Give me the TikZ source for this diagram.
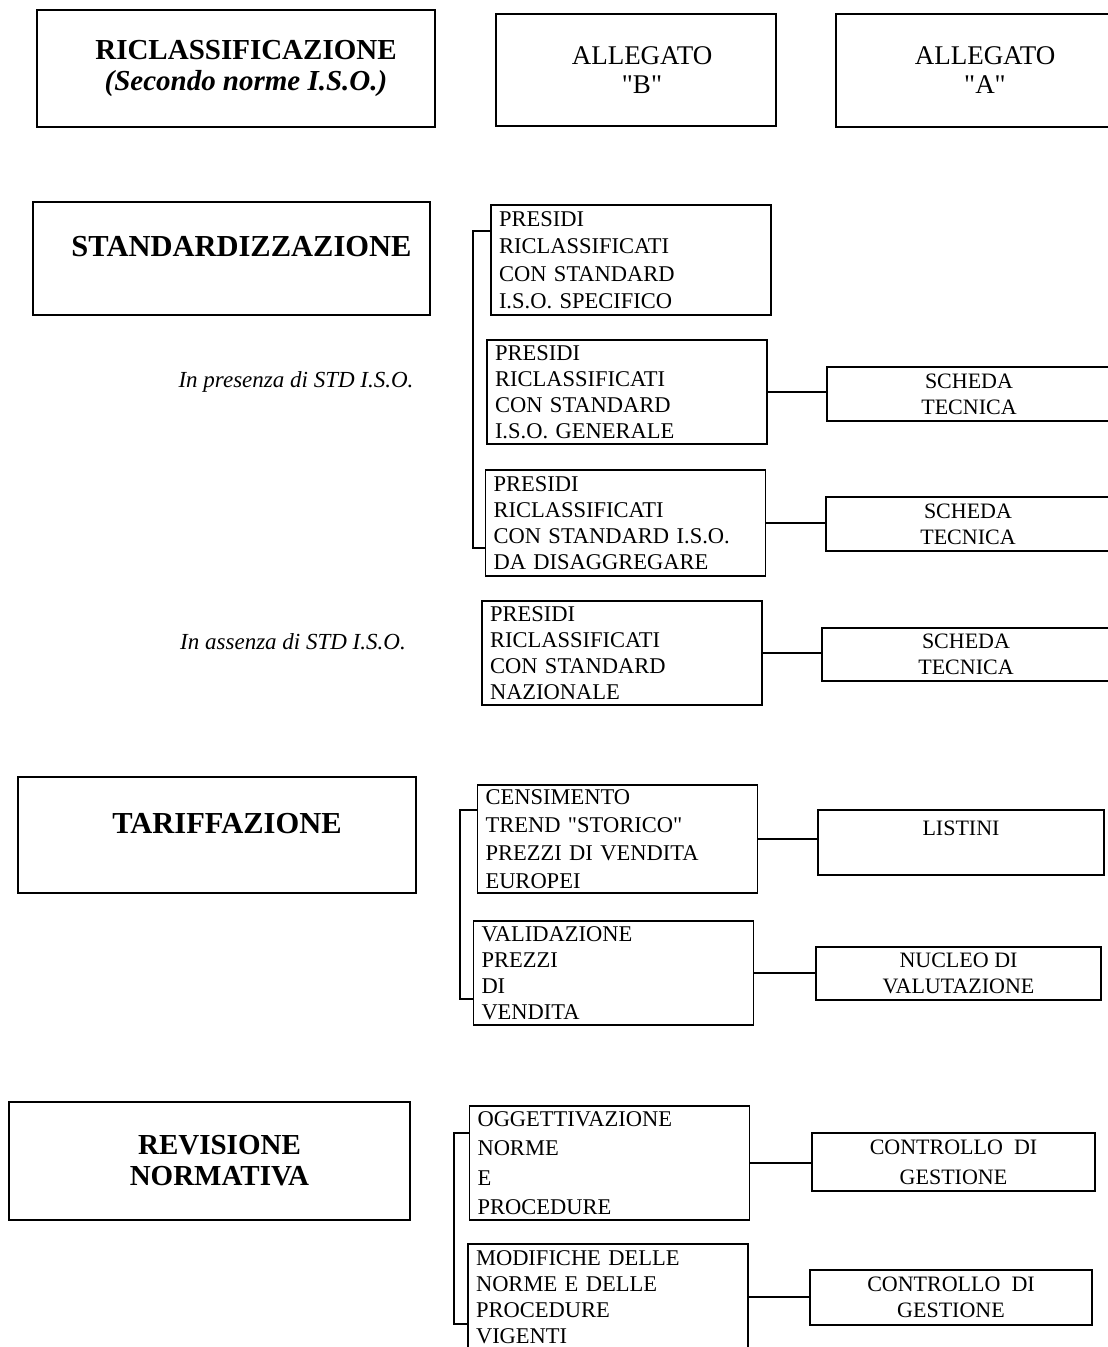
\documentclass[tikz,border=0pt]{standalone}
\usepackage{fontspec}
\setmainfont{Liberation Serif}
\usepackage{tikz}

\newcommand{\padl}{\hspace*{20pt}}

\begin{document}
\begin{tikzpicture}[
    x=1pt,
    y=-1pt,
    headbox/.style={
        draw,
        line width=2.6pt,
        align=center,
        font=\fontsize{29}{31}\selectfont\bfseries
    },
    allbox/.style={
        draw,
        line width=1.6pt,
        align=center,
        font=\fontsize{27}{29}\selectfont
    },
    listbox/.style={
        draw,
        line width=1.5pt,
        inner xsep=8pt,
        inner ysep=0pt,
        text width=264pt,
        align=left,
        font=\fontsize{22.5}{26}\selectfont
    },
    sidebox/.style={
        draw,
        line width=1.5pt,
        align=center,
        font=\fontsize{22}{26}\selectfont
    },
    note/.style={
        font=\fontsize{23}{26}\selectfont\itshape
    },
    link/.style={
        line width=1.8pt
    }
]

\path[use as bounding box, clip] (0,0) rectangle (1108,1347);


\node[headbox, minimum width=398pt, minimum height=117pt] (ricl) at (236,68.5)
    {\padl RICLASSIFICAZIONE\\\padl{\itshape (Secondo norme I.S.O.)}};
\node[allbox, minimum width=280pt, minimum height=112pt] (allb) at (636,70)
    {\hspace*{12pt}ALLEGATO\\\hspace*{12pt}\textquotedbl B\textquotedbl};
\node[allbox, minimum width=298pt, minimum height=113pt] (alla) at (985,70.5)
    {ALLEGATO\\\textquotedbl A\textquotedbl};


\node[headbox, minimum width=397pt, minimum height=113pt, text depth=24pt,
    font=\fontsize{30.5}{32}\selectfont\bfseries] (std) at (231.5,258.5)
    {\padl STANDARDIZZAZIONE};

\node[listbox, minimum height=110pt, font=\fontsize{22.5}{27.5}\selectfont] (pr1) at (631,260)
    {PRESIDI\\RICLASSIFICATI\\CON STANDARD\\I.S.O. SPECIFICO};
\node[listbox, minimum height=104pt] (pr2) at (627,392)
    {PRESIDI\\RICLASSIFICATI\\CON STANDARD\\I.S.O. GENERALE};
\node[listbox, minimum height=106pt] (pr3) at (625.5,523)
    {PRESIDI\\RICLASSIFICATI\\CON STANDARD I.S.O.\\DA DISAGGREGARE};
\node[listbox, minimum height=104pt] (pr4) at (622,653)
    {PRESIDI\\RICLASSIFICATI\\CON STANDARD\\NAZIONALE};

\node[sidebox, minimum width=284pt, minimum height=54pt] (sc1) at (969,394) {SCHEDA\\TECNICA};
\node[sidebox, minimum width=284pt, minimum height=54pt] (sc2) at (968,524) {SCHEDA\\TECNICA};
\node[sidebox, minimum width=288pt, minimum height=53pt] (sc3) at (966,654.5) {SCHEDA\\TECNICA};

\node[note] (pres) at (296,382) {In presenza di STD I.S.O.};
\node[note] (ass) at (293,642) {In assenza di STD I.S.O.};

\draw[link] ([yshift=-27pt]pr1.north west) -- ++(-17,0) |- ([yshift=29pt]pr3.south west);
\draw[link] (pr2.east) -- (pr2.east -| sc1.west);
\draw[link] (pr3.east) -- (pr3.east -| sc2.west);
\draw[link] (pr4.east) -- (pr4.east -| sc3.west);


\node[headbox, minimum width=398pt, minimum height=116pt, text depth=24pt,
    font=\fontsize{30.5}{32}\selectfont\bfseries] (tar) at (217,835)
    {\padl TARIFFAZIONE};

\node[listbox, minimum height=108pt, font=\fontsize{22.5}{28}\selectfont] (cen) at (617.5,839)
    {CENSIMENTO\\TREND \textquotedbl STORICO\textquotedbl\\PREZZI DI VENDITA\\EUROPEI};
\node[listbox, minimum height=104pt] (val) at (613.5,973)
    {VALIDAZIONE\\PREZZI\\DI\\VENDITA};

\node[sidebox, minimum width=286pt, minimum height=65pt, text depth=28pt] (lis) at (961,842.5) {LISTINI};
\node[sidebox, minimum width=285pt, minimum height=53pt] (nuc) at (958.5,973.5) {NUCLEO DI\\VALUTAZIONE};

\draw[link] ([yshift=-26pt]cen.north west) -- ++(-17,0) |- ([yshift=27pt]val.south west);
\draw[link] (cen.east) -- (cen.east -| lis.west);
\draw[link] (val.east) -- (val.east -| nuc.west);


\node[headbox, minimum width=401pt, minimum height=118pt] (rev) at (209.5,1161)
    {\padl REVISIONE\\\padl NORMATIVA};

\node[listbox, minimum height=114pt, font=\fontsize{22.5}{29.5}\selectfont] (ogg) at (609.5,1163)
    {OGGETTIVAZIONE\\NORME\\E\\PROCEDURE};
\node[listbox, minimum height=106pt] (mod) at (608,1297)
    {MODIFICHE DELLE\\NORME E DELLE\\PROCEDURE\\VIGENTI};

\node[sidebox, minimum width=283pt, minimum height=58pt, font=\fontsize{22}{30}\selectfont] (cg1) at (953.5,1162)
    {CONTROLLO~~DI\\GESTIONE};
\node[sidebox, minimum width=282pt, minimum height=55pt] (cg2) at (951,1297.5)
    {CONTROLLO~~DI\\GESTIONE};

\draw[link] ([yshift=-28pt]ogg.north west) -- ++(-15,0) |- ([yshift=27pt]mod.south west);
\draw[link] (ogg.east) -- (ogg.east -| cg1.west);
\draw[link] (mod.east) -- (mod.east -| cg2.west);

\end{tikzpicture}
\end{document}
